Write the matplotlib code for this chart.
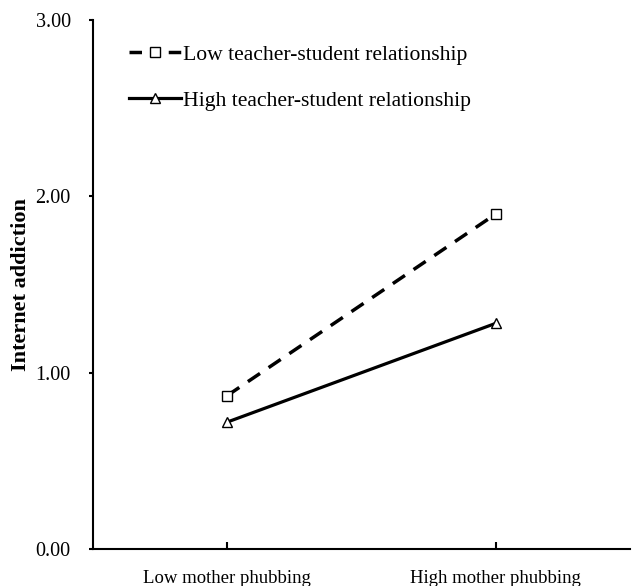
import numpy as np
import matplotlib
matplotlib.use('Agg')
import matplotlib.pyplot as plt
from matplotlib.lines import Line2D

plt.rcParams['font.family'] = ['Liberation Serif', 'DejaVu Serif']

categories = ['Low mother phubbing', 'High mother phubbing']
low_tsr = [0.87, 1.90]
high_tsr = [0.72, 1.28]
yticks = [0.0, 1.0, 2.0, 3.0]
series_names = ['Low teacher-student relationship', 'High teacher-student relationship']

fig = plt.figure(figsize=(6.32, 5.86), dpi=100)
ax = fig.add_axes([0.147, 0.063, 0.85, 0.903])

x = np.arange(len(categories))
ax.plot(x, low_tsr, color='black', lw=2.5, ls=(0, (4.2, 3.0)), marker='s', ms=7.5,
        mfc='white', mec='black', mew=1.0)
ax.plot(x, high_tsr, color='black', lw=2.3, ls='-', marker='^', ms=7.5,
        mfc='white', mec='black', mew=1.0)

ax.set_xlim(-0.5, 1.5)
ax.set_ylim(0, 3)
ax.set_xticks(x)
ax.set_xticklabels(categories, fontsize=13.5)
ax.set_yticks(yticks)
ax.set_yticklabels(['%.2f' % v for v in yticks], fontsize=14.5)
ax.set_ylabel('Internet addiction', fontsize=16, fontweight='bold', labelpad=3)

ax.spines['top'].set_visible(False)
ax.spines['right'].set_visible(False)
ax.spines['left'].set_linewidth(1.5)
ax.spines['bottom'].set_linewidth(1.5)
ax.tick_params(axis='x', direction='in', length=5, width=1.5, pad=15)
ax.tick_params(axis='y', direction='out', length=3, width=1.5, pad=13)

# legend proxies: dashed handle drawn as "- [] -"
handles = [
    Line2D([], [], color='black', lw=2.5, ls=(0, (3.6, 7.7)), marker='s', ms=6.5,
           mfc='white', mec='black', mew=1.0),
    Line2D([], [], color='black', lw=2.3, ls='-', marker='^', ms=6.5,
           mfc='white', mec='black', mew=1.0),
]
ax.legend(handles, series_names, loc='upper left', bbox_to_anchor=(0.03, 0.99),
          frameon=False, fontsize=15.6, handlelength=2.4, handletextpad=0.1,
          labelspacing=1.2)

fig.savefig('out.png', dpi=100)
